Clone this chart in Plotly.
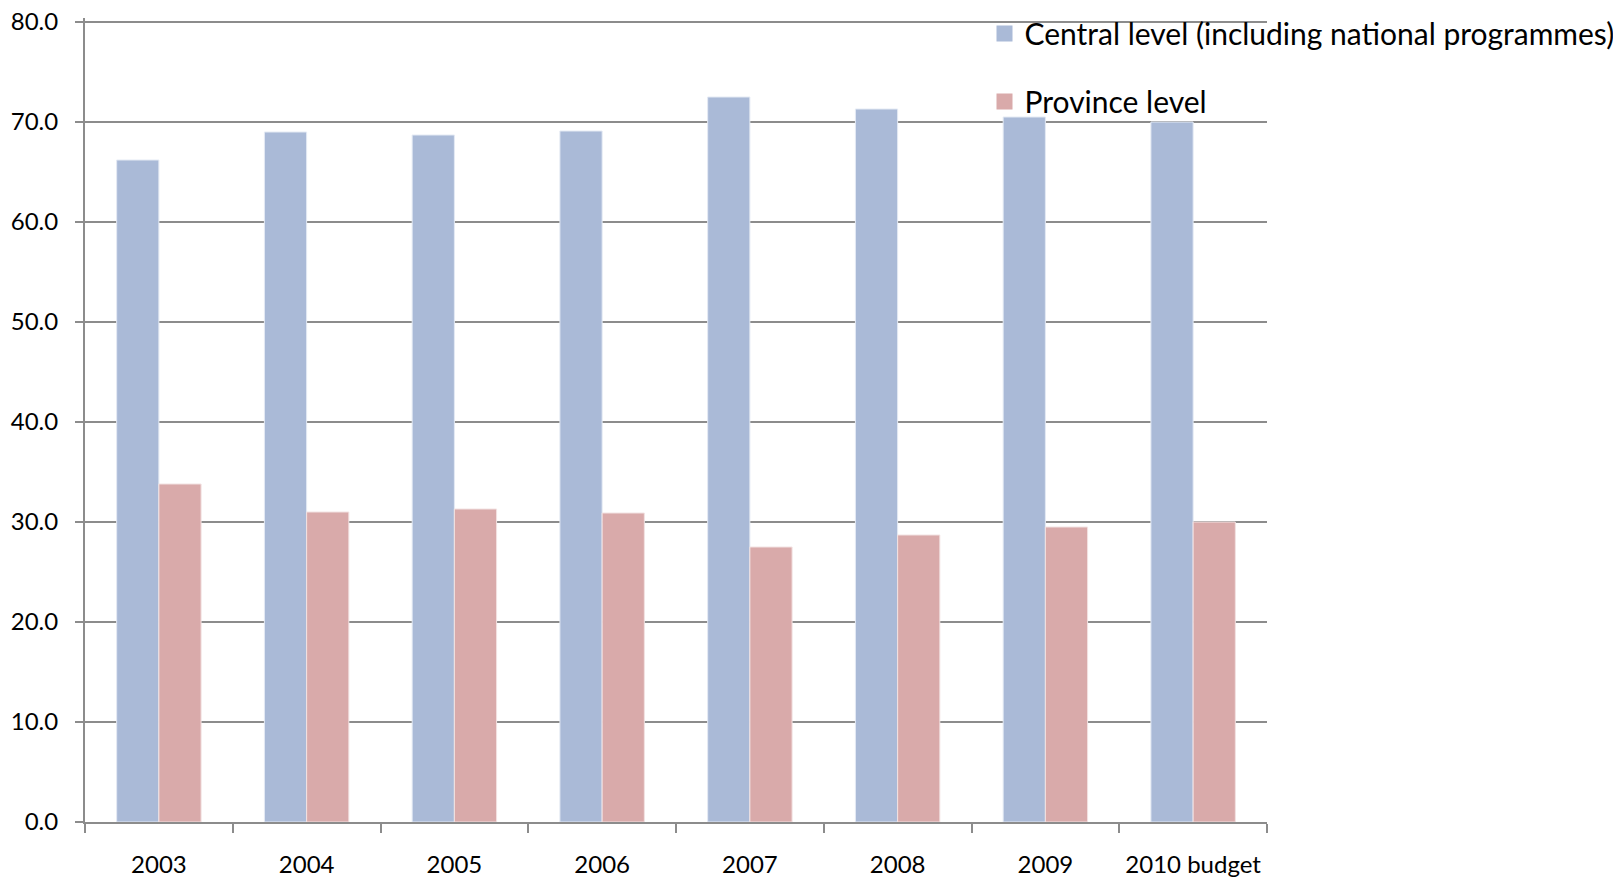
import plotly.graph_objects as go

categories = ["2003", "2004", "2005", "2006", "2007", "2008", "2009", "2010 budget"]
central = [66.2, 69.0, 68.7, 69.1, 72.5, 71.3, 70.5, 70.0]
province = [33.8, 31.0, 31.3, 30.9, 27.5, 28.7, 29.5, 30.0]
y_ticks = [0, 10, 20, 30, 40, 50, 60, 70, 80]

series_names = ["Central level (including national programmes)", "Province level"]
series_colors = ["#AABAD7", "#D9AAAA"]
series_edges = ["#E4EAF4", "#F2E2E2"]

FONT = "Lato"
GRID = "#8c8c8c"

fig = go.Figure()
for vals, name, col, edge, grp in zip([central, province], series_names, series_colors, series_edges, ["a", "b"]):
    fig.add_trace(go.Bar(
        x=categories, y=vals, name=name,
        marker=dict(color=col, line=dict(color=edge, width=1)),
        legendgroup=grp, showlegend=False,
    ))
# legend entries with larger square swatches
for name, col, grp in zip(series_names, series_colors, ["a", "b"]):
    fig.add_trace(go.Scatter(
        x=[None], y=[None], mode="markers", name=name,
        marker=dict(symbol="square", size=16, color=col),
        legendgroup=grp, showlegend=True, hoverinfo="skip",
    ))

fig.update_layout(
    width=1613, height=869,
    margin=dict(l=77, r=354, t=10, b=55, autoexpand=False),
    paper_bgcolor="white", plot_bgcolor="white",
    barmode="group", bargap=0.4286, bargroupgap=0,
    font=dict(family=FONT, color="black"),
    showlegend=True,
    legend=dict(
        x=0.761, y=1.013, xanchor="left", yanchor="top",
        font=dict(family=FONT, size=30, color="black"),
        bgcolor="rgba(0,0,0,0)", traceorder="grouped", tracegroupgap=26,
        itemclick=False, itemdoubleclick=False,
    ),
)
fig.update_xaxes(
    type="category", showline=True, linecolor=GRID, linewidth=2,
    ticks="outside", tickson="boundaries", ticklen=9, tickcolor=GRID, tickwidth=1.5,
    tickfont=dict(family=FONT, size=24, color="black"),
    ticklabelstandoff=20, showgrid=False, automargin=False,
)
fig.update_yaxes(
    range=[0, 80.4], tickvals=y_ticks, ticktext=[f"{v:.1f}" for v in y_ticks],
    showline=True, linecolor=GRID, linewidth=2,
    ticks="outside", ticklen=8, tickcolor=GRID, tickwidth=1.5,
    showgrid=True, gridcolor=GRID, gridwidth=1.5, zeroline=False,
    tickfont=dict(family=FONT, size=24, color="black"),
    ticklabelstandoff=12, automargin=False, ticklabeloverflow="allow",
)

fig.write_html("out.html")
